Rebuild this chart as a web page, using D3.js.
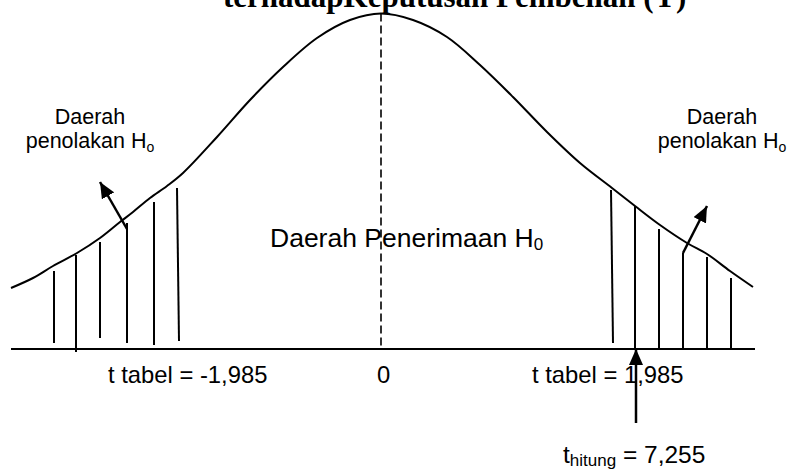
<!DOCTYPE html>
<html>
<head>
<meta charset="utf-8">
<script src="https://cdn.jsdelivr.net/npm/d3@7/dist/d3.min.js"></script>
<style>
  html, body { margin: 0; padding: 0; background: #fff; }
  svg { display: block; }
  text { font-family: "Liberation Sans", Arial, sans-serif; fill: #000; }
</style>
</head>
<body>
<svg id="chart" width="788" height="471"></svg>
<script>
// ---------- data ----------
// Bell curve outline: position along the t axis and height above the baseline
const curveT = [-3.70, -3.48, -3.28, -3.04, -2.81, -2.61, -2.48, -2.31, -2.14, -1.98, -1.64, -1.31, -0.98, -0.64, -0.31, 0.00,
                 0.32, 0.66, 0.99, 1.32, 1.66, 1.99, 2.31, 2.54, 2.79, 3.06, 3.26, 3.49, 3.72];
const curveH = [0.61, 0.71, 0.83, 0.96, 1.11, 1.27, 1.37, 1.51, 1.63, 1.76, 2.12, 2.49, 2.82, 3.11, 3.29, 3.355,
                3.29, 3.12, 2.84, 2.52, 2.17, 1.86, 1.61, 1.43, 1.24, 1.06, 0.95, 0.78, 0.62];

// Hatching of the rejection regions (vertical strokes)
const hatchTopT    = [-3.27, -3.05, -2.81, -2.54, -2.27, -2.04, 2.30, 2.54, 2.78, 3.02, 3.26, 3.50];
const hatchBottomT = [-3.27, -3.05, -2.81, -2.54, -2.27, -2.02, 2.32, 2.54, 2.78, 3.02, 3.26, 3.50];
const hatchTopH    = [0.78, 0.94, 1.07, 1.26, 1.47, 1.61, 1.59, 1.43, 1.20, 0.96, 0.92, 0.71];
const hatchBottomH = [0.06, -0.03, 0.11, 0.06, 0.04, 0.08, 0.06, 0.00, 0.00, 0.00, 0.00, 0.00];

// Arrows: start and tip
const arrowFromT = [-2.54, 3.02, 2.55];
const arrowFromH = [1.20, 0.96, -0.74];
const arrowToT   = [-2.81, 3.26, 2.55];
const arrowToH   = [1.67, 1.43, 0.00];

// Axis labels under the baseline
const tickLabels = ["t tabel = -1,985", "0", "t tabel = 1,985"];

const titleText = "terhadapKeputusan Pembelian (Y)";
const regionLabel = ["Daerah", "penolakan H", "o"];
const acceptLabel = ["Daerah Penerimaan H", "0"];
const thitungLabel = ["t", "hitung", " = 7,255"];

// ---------- layout ----------
const svg = d3.select("#chart");
const x = d3.scaleLinear().domain([-3.70, 3.72]).range([11, 753]);
const y = d3.scaleLinear().domain([0, 3.355]).range([349, 13.5]);

// Title (mostly cropped at the top, as in the reference)
svg.append("text")
  .attr("x", 223).attr("y", 7)
  .style("font-family", "'Liberation Serif', 'Times New Roman', serif")
  .style("font-weight", "bold").style("font-size", "31px")
  .text(titleText);

// Baseline
svg.append("line")
  .attr("x1", x(-3.70)).attr("x2", x(3.74))
  .attr("y1", y(0)).attr("y2", y(0))
  .attr("stroke", "#000").attr("stroke-width", 2);

// Dashed centre line
svg.append("line")
  .attr("x1", x(0)).attr("x2", x(0))
  .attr("y1", y(3.355)).attr("y2", y(0))
  .attr("stroke", "#000").attr("stroke-width", 1.6)
  .attr("stroke-dasharray", "8,4");

// Curve
const pts = curveT.map((t, i) => [t, curveH[i]]);
svg.append("path")
  .datum(pts)
  .attr("fill", "none").attr("stroke", "#000").attr("stroke-width", 2)
  .attr("d", d3.line().x(d => x(d[0])).y(d => y(d[1])).curve(d3.curveCatmullRom.alpha(0.5)));

// Hatch lines
svg.append("g").selectAll("line")
  .data(hatchTopT.map((t, i) => ({t1: t, h1: hatchTopH[i], t2: hatchBottomT[i], h2: hatchBottomH[i]})))
  .join("line")
  .attr("x1", d => x(d.t1)).attr("y1", d => y(d.h1))
  .attr("x2", d => x(d.t2)).attr("y2", d => y(d.h2))
  .attr("stroke", "#000").attr("stroke-width", 2);

// Arrowhead marker
svg.append("defs").append("marker")
  .attr("id", "ah")
  .attr("markerUnits", "userSpaceOnUse")
  .attr("viewBox", "0 0 16 14")
  .attr("refX", 16).attr("refY", 7)
  .attr("markerWidth", 16).attr("markerHeight", 14)
  .attr("orient", "auto")
  .append("path").attr("d", "M0,0 L16,7 L0,14 Z").attr("fill", "#000");

svg.append("g").selectAll("line")
  .data(arrowFromT.map((t, i) => ({t1: t, h1: arrowFromH[i], t2: arrowToT[i], h2: arrowToH[i]})))
  .join("line")
  .attr("x1", d => x(d.t1)).attr("y1", d => y(d.h1))
  .attr("x2", d => x(d.t2)).attr("y2", d => y(d.h2))
  .attr("stroke", "#000").attr("stroke-width", 2.5)
  .attr("marker-end", "url(#ah)");

// Rejection region labels
[90, 722].forEach(cx => {
  svg.append("text").attr("x", cx).attr("y", 124)
    .attr("text-anchor", "middle").style("font-size", "21.5px")
    .text(regionLabel[0]);
  const t2 = svg.append("text").attr("x", cx).attr("y", 148)
    .attr("text-anchor", "middle").style("font-size", "21.5px");
  t2.append("tspan").text(regionLabel[1]);
  t2.append("tspan").attr("dy", 4).style("font-size", "14px").text(regionLabel[2]);
});

// Acceptance region label
const acc = svg.append("text").attr("x", 270).attr("y", 247).style("font-size", "26.5px");
acc.append("tspan").text(acceptLabel[0]);
acc.append("tspan").attr("dy", 3).style("font-size", "17px").text(acceptLabel[1]);

// Tick labels below baseline
const tickX = [108, 377, 532];
tickLabels.forEach((s, i) => {
  svg.append("text").attr("x", tickX[i]).attr("y", 383)
    .style("font-size", "23.8px").text(s);
});

// t hitung label
const th = svg.append("text").attr("x", 563).attr("y", 463).style("font-size", "24.5px");
th.append("tspan").text(thitungLabel[0]);
th.append("tspan").attr("dy", 3).style("font-size", "17px").text(thitungLabel[1]);
th.append("tspan").attr("dy", -3).text(thitungLabel[2]);
</script>
</body>
</html>
